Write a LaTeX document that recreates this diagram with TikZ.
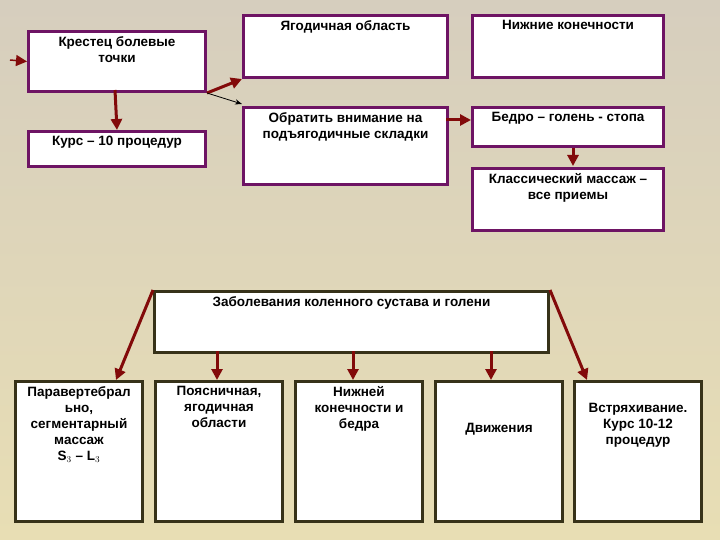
\documentclass[tikz,border=0pt]{standalone}
\usepackage{fontspec}
\setmainfont{Liberation Sans}
\usetikzlibrary{arrows.meta}
\definecolor{bgtop}{RGB}{214,206,190}
\definecolor{bgbot}{RGB}{232,222,180}
\definecolor{pur}{RGB}{110,20,100}
\definecolor{olv}{RGB}{55,50,25}
\definecolor{arr}{RGB}{130,10,10}
\begin{document}
\begin{tikzpicture}[x=1pt,y=-1pt,
  top/.style={draw=pur,line width=3pt,fill=white,anchor=north west,align=center,inner sep=3pt},
  bot/.style={draw=olv,line width=3pt,fill=white,anchor=north west,align=center,inner sep=3pt},
  ar/.style={draw=arr,line width=3pt,-{Triangle[length=11pt,width=11pt]}},
  tx/.style={font=\bfseries\fontsize{13.5}{16}\selectfont}]
\shade[top color=bgtop,bottom color=bgbot] (0,0) rectangle (720,540);
\useasboundingbox (0,0) rectangle (720,540);
\newcommand{\bx}[7]{\node[#1,minimum width=#4pt,minimum height=#5pt] (#6) at (#2,#3) {};
  \node[tx,anchor=north,align=center] at ([yshift=-3pt]#6.north) {#7};}
\bx{top}{27}{30}{177}{60}{kr}{Крестец болевые\\точки}
\bx{top}{27}{130}{177}{35}{ku}{Курс – 10 процедур}
\bx{top}{242}{14}{204}{62}{ya}{Ягодичная область}
\bx{top}{242}{106}{204}{77}{ob}{Обратить внимание на\\подъягодичные складки}
\bx{top}{471}{14}{191}{62}{ni}{Нижние конечности}
\bx{top}{471}{106}{191}{39}{be}{Бедро – голень - стопа}
\bx{top}{471}{167}{191}{62}{kl}{Классический массаж –\\все приемы}
\bx{bot}{153}{290}{394}{61}{za}{Заболевания коленного сустава и голени}
\bx{bot}{14}{380}{127}{140}{b1}{Паравертебрал\\ьно,\\сегментарный\\массаж\\S$_3$ – L$_3$}
\bx{bot}{154}{380}{127}{140}{b2}{Поясничная,\\ягодичная\\области}
\bx{bot}{294}{380}{127}{140}{b3}{Нижней\\конечности и\\бедра}
\node[bot,minimum width=127pt,minimum height=140pt] (b4) at (434,380) {};
\node[tx] at (b4.center) [yshift=22pt] {Движения};
\bx{bot}{573}{380}{127}{140}{b5}{}
\node[tx,align=center,anchor=north] at ([yshift=-20pt]b5.north) {Встряхивание.\\Курс 10-12\\процедур};
\coordinate (in) at (10,60);
\draw[ar,line width=1.5pt] (in) -- (kr.west);
\draw[ar] (115,90) -- (ku.north);
\draw[ar] (kr.south east) -- (ya.south west);
\draw[line width=0.8pt,-{Stealth[length=7pt]}] (kr.south east) -- (242,104);
\draw[ar] (446,120) -- (be.west |- 0,120);
\draw[ar] (573,148) -- (573,166);
\draw[ar] (za.north west) -- (116,380);
\draw[ar] (za.north east) -- (587,380);
\draw[ar] (217,351) -- (217,380);
\draw[ar] (353,351) -- (353,380);
\draw[ar] (491,351) -- (491,380);
\end{tikzpicture}
\end{document}
